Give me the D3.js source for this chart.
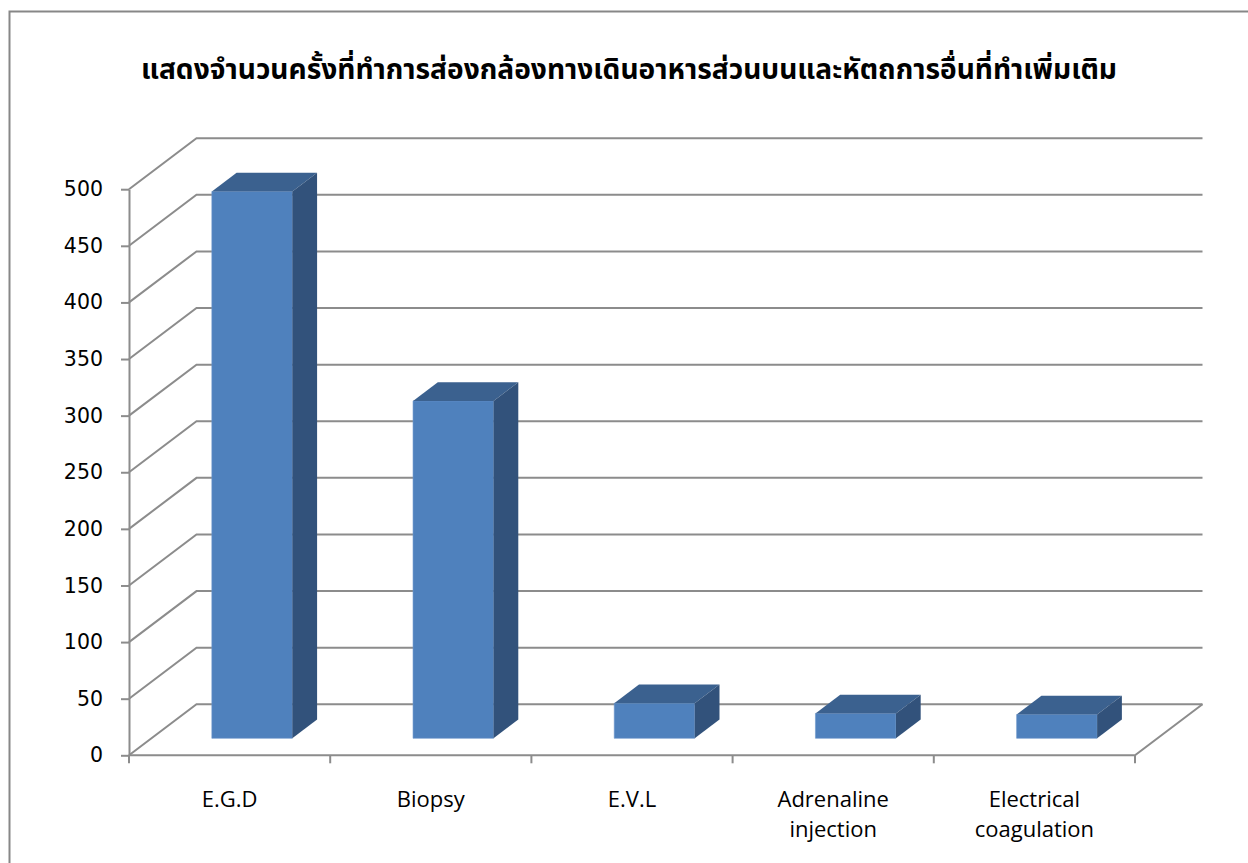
<!DOCTYPE html>
<html>
<head>
<meta charset="utf-8">
<script src="https://cdn.jsdelivr.net/npm/d3@7"></script>
<style>
  body { margin: 0; background: #fff; }
</style>
</head>
<body>
<div id="app"></div>
<script>
;(() => {

    const title = 'แสดงจำนวนครั้งที่ทำการส่องกล้องทางเดินอาหารส่วนบนและหัตถการอื่นที่ทำเพิ่มเติม'
    const categories = ['E.G.D', 'Biopsy', 'E.V.L', 'Adrenaline injection', 'Electrical coagulation']
    const categoryLines = [['E.G.D'], ['Biopsy'], ['E.V.L'], ['Adrenaline', 'injection'], ['Electrical', 'coagulation']]
    const counts = [483, 298, 31, 22, 21]
    const yTicks = [0, 50, 100, 150, 200, 250, 300, 350, 400, 450, 500]

    const width = 1248
    const height = 863

    // front plane of the 3d box
    const left = 129, right = 1135, bottom = 755.3, top = 189.2
    // depth offset of the back wall
    const DX = 67.5, DY = -51
    const d0 = 0.333, d1 = 0.7

    const grid = '#8c8c8c'

    const x = d3.scaleBand()
        .domain(categories)
        .range([left, right])
        .paddingInner(0.6)
        .paddingOuter(0.3)

    const y = d3.scaleLinear()
        .domain([0, 500])
        .range([bottom, top])

    const proj = (px, py, d) => [px + d * DX, py + d * DY]

    const svg = d3.create('svg')
        .attr('viewBox', [0, 0, width, height])
        .attr('width', width)
        .attr('height', height)

    // chart border
    svg.append('rect')
        .attr('x', 9.5)
        .attr('y', 11.5)
        .attr('width', 1260)
        .attr('height', 880)
        .attr('fill', '#fff')
        .attr('stroke', '#878787')
        .attr('stroke-width', 2)

    svg.append('text')
        .attr('x', 629)
        .attr('y', 79)
        .attr('text-anchor', 'middle')
        .attr('textLength', 976)
        .attr('lengthAdjust', 'spacingAndGlyphs')
        .style('font-family', '"Noto Sans Thai", "DejaVu Sans", "Noto Sans", sans-serif')
        .style('font-weight', 'bold')
        .style('font-size', '28px')
        .attr('fill', '#000')
        .text(title)

    // walls: diagonal on left wall, horizontal on back wall
    const walls = svg.append('g')
        .attr('fill', 'none')
        .attr('stroke', grid)
        .attr('stroke-width', 2)

    walls.selectAll('path')
        .data(yTicks)
        .join('path')
        .attr('d', v => {
            const a = [left, y(v)]
            const b = proj(left, y(v), 1)
            const c = proj(right, y(v), 1)
            return d3.line()([a, b, c])
        })

    // floor
    walls.append('path')
        .attr('d', d3.line()([[left, bottom], [right, bottom], proj(right, bottom, 1)]))

    // bars
    const bars = svg.append('g')
        .selectAll('g')
        .data(categories.map((c, i) => ({ c, v: counts[i] })))
        .join('g')

    bars.append('path')
        .attr('fill', '#4f81bd')
        .attr('stroke', '#6c97cc')
        .attr('stroke-width', 0.6)
        .attr('d', d => {
            const x0 = x(d.c), x1 = x0 + x.bandwidth()
            return d3.line()([
                proj(x0, y(d.v), d0), proj(x1, y(d.v), d0),
                proj(x1, y(0), d0), proj(x0, y(0), d0)
            ]) + 'Z'
        })

    bars.append('path')
        .attr('fill', '#3b618f')
        .attr('d', d => {
            const x0 = x(d.c), x1 = x0 + x.bandwidth()
            return d3.line()([
                proj(x0, y(d.v), d0), proj(x1, y(d.v), d0),
                proj(x1, y(d.v), d1), proj(x0, y(d.v), d1)
            ]) + 'Z'
        })

    bars.append('path')
        .attr('fill', '#32527b')
        .attr('d', d => {
            const x1 = x(d.c) + x.bandwidth()
            return d3.line()([
                proj(x1, y(d.v), d0), proj(x1, y(d.v), d1),
                proj(x1, y(0), d1), proj(x1, y(0), d0)
            ]) + 'Z'
        })

    // value axis
    const yAxis = svg.append('g')
        .attr('transform', `translate(${left}, 0)`)
        .call(d3.axisLeft(y).tickValues(yTicks).tickSize(8).tickPadding(18).tickSizeOuter(0))

    yAxis.select('.domain').attr('stroke', grid).attr('stroke-width', 2)
    yAxis.selectAll('.tick line').attr('stroke', grid).attr('stroke-width', 2)
    yAxis.selectAll('.tick text')
        .attr('fill', '#000')
        .style('font-family', '"DejaVu Sans", sans-serif')
        .style('font-size', '20.5px')

    // category axis ticks at band edges
    const edges = d3.range(categories.length + 1).map(i => x.range()[0] + i * x.step())
    svg.append('g')
        .selectAll('line')
        .data(edges)
        .join('line')
        .attr('x1', d => d)
        .attr('x2', d => d)
        .attr('y1', bottom)
        .attr('y2', bottom + 8)
        .attr('stroke', grid)
        .attr('stroke-width', 2)

    svg.append('g')
        .selectAll('text')
        .data(categories.map((c, i) => ({ c, lines: categoryLines[i] })))
        .join('text')
        .attr('x', (d, i) => edges[i] + x.step() / 2)
        .attr('y', 807)
        .attr('text-anchor', 'middle')
        .attr('fill', '#000')
        .style('font-family', '"Open Sans", sans-serif')
        .style('font-size', '22px')
        .selectAll('tspan')
        .data(d => d.lines)
        .join('tspan')
        .attr('x', function () { return this.parentNode.getAttribute('x') })
        .attr('dy', (d, i) => i === 0 ? 0 : 30)
        .text(d => d)

    d3.select('#app').append(() => svg.node())

})()
</script>
</body>
</html>
